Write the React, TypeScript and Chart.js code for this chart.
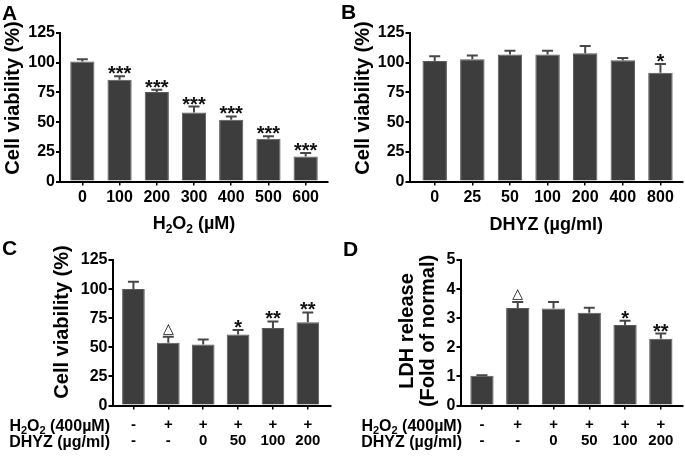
import React, { useEffect, useRef } from 'react';
import { Chart, registerables } from 'chart.js';

Chart.register(...registerables);

// ---------------- data ----------------
const aLabels = ['0', '100', '200', '300', '400', '500', '600'];
const aValues = [101, 85.7, 75.3, 58.1, 52, 36, 21];
const aErrors = [2, 2.8, 2, 5, 2.8, 2, 3];
const aMarks = ['', '***', '***', '***', '***', '***', '***'];

const bLabels = ['0', '25', '50', '100', '200', '400', '800'];
const bValues = [101.5, 103, 107, 107, 108, 102, 91.5];
const bErrors = [4, 3, 3, 3, 6, 2, 7.5];
const bMarks = ['', '', '', '', '', '', '*'];

const h2o2Row = ['-', '+', '+', '+', '+', '+'];
const dhyzRow = ['-', '-', '0', '50', '100', '200'];

const cValues = [100, 54, 52.5, 61, 66.5, 71.5];
const cErrors = [6.3, 5, 4.3, 3.8, 5.7, 8.5];
const cMarks = ['', '△', '', '*', '**', '**'];

const dValues = [1.02, 3.35, 3.33, 3.19, 2.77, 2.29];
const dErrors = [0.02, 0.21, 0.23, 0.17, 0.14, 0.18];
const dMarks = ['', '△', '', '', '*', '**'];

const viabilityMax = 125;
const viabilityStep = 25;
const ldhMax = 5;
const ldhStep = 1;

// ---------------- styling / layout ----------------
const W = 685;
const H = 459;
const FONT = '"Liberation Sans", Arial, Helvetica, sans-serif';
const BAR = '#3d3d3d';
const ERR = '#474747';

type Seg = { t: string; sub?: boolean };

interface Panel {
  letter: string;
  letterPos: [number, number];
  area: { left: number; top: number; right: number; bottom: number };
  xMin: number;
  xMax: number;
  yMax: number;
  yStep: number;
  labels: (string | string[])[];
  values: number[];
  errors: number[];
  marks: string[];
  tickSize: number;
  tickLine: number; // px
  tickPad: number;
  yTitle: string[];
  yTitleX: number;
  yTitleCY: number;
  xTitle?: Seg[];
  xTitleY?: number;
  rows?: Seg[][];
  rowRight?: number;
}

const h2o2Title: Seg[] = [{ t: 'H' }, { t: '2', sub: true }, { t: 'O' }, { t: '2', sub: true }, { t: ' (µM)' }];
const dhyzTitle: Seg[] = [{ t: 'DHYZ (µg/ml)' }];
const rowTitles: Seg[][] = [
  [{ t: 'H' }, { t: '2', sub: true }, { t: 'O' }, { t: '2', sub: true }, { t: ' (400µM)' }],
  [{ t: 'DHYZ (µg/ml)' }],
];

const panels: Panel[] = [
  {
    letter: 'A', letterPos: [2, 20],
    area: { left: 60, top: 33, right: 328, bottom: 181.5 },
    xMin: -0.6, xMax: 6.6, yMax: viabilityMax, yStep: viabilityStep,
    labels: aLabels, values: aValues, errors: aErrors, marks: aMarks,
    tickSize: 16, tickLine: 16, tickPad: 4,
    yTitle: ['Cell viability (%)'], yTitleX: 19, yTitleCY: 98,
    xTitle: h2o2Title, xTitleY: 229,
  },
  {
    letter: 'B', letterPos: [341, 19],
    area: { left: 409.5, top: 33, right: 683, bottom: 181.5 },
    xMin: -0.67, xMax: 6.6, yMax: viabilityMax, yStep: viabilityStep,
    labels: bLabels, values: bValues, errors: bErrors, marks: bMarks,
    tickSize: 16, tickLine: 16, tickPad: 4,
    yTitle: ['Cell viability (%)'], yTitleX: 369, yTitleCY: 98,
    xTitle: dhyzTitle, xTitleY: 229.5,
  },
  {
    letter: 'C', letterPos: [2, 255],
    area: { left: 112.5, top: 260, right: 330.5, bottom: 405.5 },
    xMin: -0.6, xMax: 5.65, yMax: viabilityMax, yStep: viabilityStep,
    labels: h2o2Row.map((h, i) => [h, dhyzRow[i]]), values: cValues, errors: cErrors, marks: cMarks,
    tickSize: 15, tickLine: 16, tickPad: 7.5,
    yTitle: ['Cell viability (%)'], yTitleX: 68, yTitleCY: 322,
    rows: rowTitles, rowRight: 110,
  },
  {
    letter: 'D', letterPos: [343, 256],
    area: { left: 460.5, top: 260, right: 683, bottom: 405.5 },
    xMin: -0.6, xMax: 5.62, yMax: ldhMax, yStep: ldhStep,
    labels: h2o2Row.map((h, i) => [h, dhyzRow[i]]), values: dValues, errors: dErrors, marks: dMarks,
    tickSize: 15, tickLine: 16, tickPad: 7.5,
    yTitle: ['LDH release', '(Fold of normal)'], yTitleX: 413, yTitleCY: 331,
    rows: rowTitles, rowRight: 462,
  },
];

function drawRich(ctx: CanvasRenderingContext2D, segs: Seg[], x: number, baseline: number, size: number, align: 'left' | 'center' | 'right') {
  const main = `bold ${size}px ${FONT}`;
  const sub = `bold ${Math.round(size * 0.66)}px ${FONT}`;
  const widths = segs.map((s) => {
    ctx.font = s.sub ? sub : main;
    return ctx.measureText(s.t).width;
  });
  const total = widths.reduce((a, b) => a + b, 0);
  let cx = align === 'center' ? x - total / 2 : align === 'right' ? x - total : x;
  ctx.textAlign = 'left';
  ctx.textBaseline = 'alphabetic';
  segs.forEach((s, i) => {
    ctx.font = s.sub ? sub : main;
    ctx.fillText(s.t, cx, baseline + (s.sub ? size * 0.2 : 0));
    cx += widths[i];
  });
}

function makeDecor(p: Panel) {
  return {
    id: 'decor' + p.letter,
    afterDatasetsDraw(chart: any) {
      const ctx: CanvasRenderingContext2D = chart.ctx;
      const xs = chart.scales.x;
      const ys = chart.scales.y;
      ctx.save();
      p.values.forEach((v, i) => {
        const x = xs.getPixelForValue(i);
        const yb = ys.getPixelForValue(v);
        const yt = ys.getPixelForValue(v + p.errors[i]);
        ctx.strokeStyle = ERR;
        ctx.lineWidth = 2;
        ctx.beginPath();
        ctx.moveTo(x, yb);
        ctx.lineTo(x, yt);
        ctx.moveTo(x - 5.5, yt);
        ctx.lineTo(x + 5.5, yt);
        ctx.stroke();
        const m = p.marks[i];
        if (m) {
          ctx.fillStyle = '#111';
          ctx.textAlign = 'center';
          ctx.textBaseline = 'alphabetic';
          if (m === '△') {
            ctx.font = `14px "DejaVu Sans", sans-serif`;
            ctx.fillText(m, x, yt - 4);
          } else {
            ctx.font = `bold 20px ${FONT}`;
            ctx.fillText(m, x, yt + 4);
          }
        }
      });
      ctx.restore();
    },
    afterDraw(chart: any) {
      const ctx: CanvasRenderingContext2D = chart.ctx;
      ctx.save();
      ctx.fillStyle = '#000';
      // panel letter
      ctx.font = `bold 21px ${FONT}`;
      ctx.textAlign = 'left';
      ctx.textBaseline = 'alphabetic';
      ctx.fillText(p.letter, p.letterPos[0], p.letterPos[1]);
      // y title
      ctx.font = `bold 20px ${FONT}`;
      p.yTitle.forEach((line, k) => {
        ctx.save();
        ctx.translate(p.yTitleX + k * 21, p.yTitleCY);
        ctx.rotate(-Math.PI / 2);
        ctx.textAlign = 'center';
        ctx.textBaseline = 'alphabetic';
        ctx.fillText(line, 0, 0);
        ctx.restore();
      });
      // x title
      if (p.xTitle && p.xTitleY) {
        drawRich(ctx, p.xTitle, (p.area.left + p.area.right) / 2, p.xTitleY, 18, 'center');
      }
      // row labels
      if (p.rows && p.rowRight) {
        p.rows.forEach((r, k) => {
          const middle = p.area.bottom + 4 + p.tickPad + p.tickLine * (k + 0.5);
          drawRich(ctx, r, p.rowRight!, middle + 0.35 * 16, 16, 'right');
        });
      }
      ctx.restore();
    },
  };
}

function buildConfig(p: Panel): any {
  const yW = 50;
  const xH = 40;
  return {
    type: 'bar',
    data: {
      datasets: [
        {
          data: p.values.map((v, i) => ({ x: i, y: v })),
          backgroundColor: BAR,
          borderColor: '#5a5a5a',
          borderWidth: 1,
          barPercentage: 0.65,
          categoryPercentage: 1,
        },
      ],
    },
    options: {
      responsive: false,
      animation: false,
      devicePixelRatio: 1,
      events: [],
      layout: {
        padding: {
          left: p.area.left - yW,
          top: p.area.top,
          right: W - p.area.right,
          bottom: H - p.area.bottom - xH,
        },
      },
      plugins: { legend: { display: false }, tooltip: { enabled: false }, title: { display: false } },
      scales: {
        x: {
          type: 'linear',
          min: p.xMin,
          max: p.xMax,
          bounds: 'data',
          offset: false,
          afterBuildTicks: (s: any) => {
            s.ticks = p.labels.map((_, i) => ({ value: i }));
          },
          afterFit: (s: any) => {
            s.height = xH;
          },
          grid: { offset: false, drawOnChartArea: false, drawTicks: true, tickLength: 4, color: '#000', lineWidth: 1.5 },
          border: { display: true, color: '#000', width: 2 },
          ticks: {
            autoSkip: false,
            maxRotation: 0,
            minRotation: 0,
            color: '#000',
            padding: p.tickPad,
            font: { family: FONT, size: p.tickSize, weight: 'bold', lineHeight: p.tickLine / p.tickSize },
            callback: (_v: any, index: number) => p.labels[index],
          },
        },
        y: {
          min: 0,
          max: p.yMax,
          afterFit: (s: any) => {
            s.width = yW;
          },
          grid: { drawOnChartArea: false, drawTicks: true, tickLength: 4, color: '#000', lineWidth: 2 },
          border: { display: true, color: '#000', width: 2 },
          ticks: {
            stepSize: p.yStep,
            color: '#000',
            padding: 1,
            font: { family: FONT, size: 16, weight: 'bold' },
          },
        },
      },
    },
    plugins: [makeDecor(p)],
  };
}

function PanelChart({ panel }: { panel: Panel }) {
  const ref = useRef<HTMLCanvasElement>(null);
  useEffect(() => {
    if (!ref.current) return;
    const chart = new Chart(ref.current, buildConfig(panel));
    return () => chart.destroy();
  }, [panel]);
  return (
    <canvas
      ref={ref}
      width={W}
      height={H}
      style={{ position: 'absolute', left: 0, top: 0, width: W, height: H }}
    />
  );
}

export default function App() {
  return (
    <div style={{ position: 'absolute', left: 0, top: 0, width: W, height: H, background: '#fff', overflow: 'hidden' }}>
      {panels.map((p) => (
        <PanelChart key={p.letter} panel={p} />
      ))}
    </div>
  );
}
